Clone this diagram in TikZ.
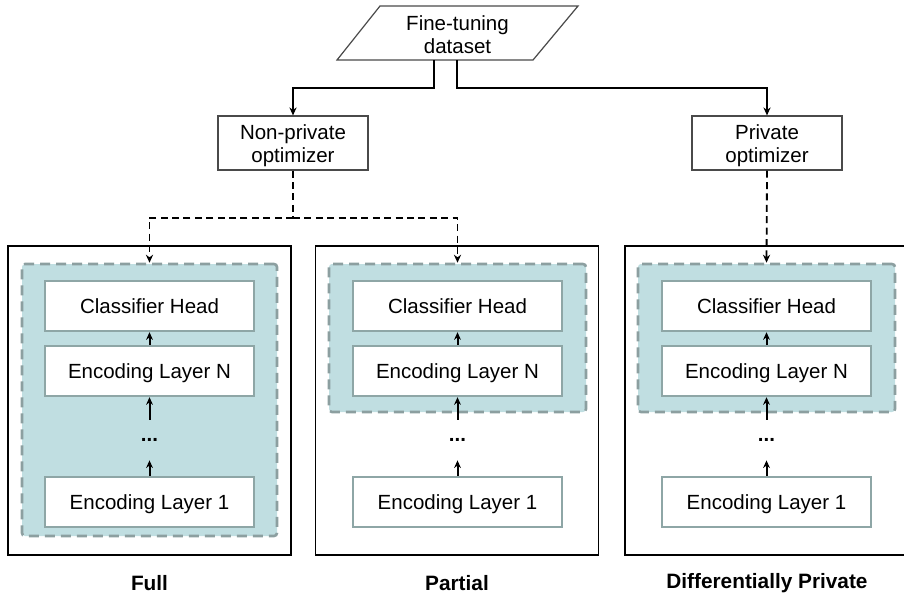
\documentclass[tikz,border=0pt]{standalone}
\usepackage{fontspec}
\setmainfont{Liberation Sans}
\usetikzlibrary{arrows.meta,calc}
\definecolor{shadefill}{HTML}{C0DEE1}
\definecolor{shadeedge}{HTML}{8C9FA0}
\definecolor{layeredge}{HTML}{8EA6A6}
\definecolor{optedge}{HTML}{4A4A4A}
\begin{document}
\begin{tikzpicture}[x=0.5pt,y=-0.5pt,
  font=\fontsize{10.25}{11.6}\selectfont,
  optbox/.style={draw=optedge, line width=0.6pt, inner sep=0pt,
    minimum width=75pt, minimum height=27pt},
  opttext/.style={align=center, inner sep=0pt},
  outerbox/.style={draw, line width=0.7pt, inner sep=0pt,
    minimum width=141.5pt, minimum height=154.5pt},
  shadebox/.style={draw=shadeedge, fill=shadefill, line width=1.3pt,
    dash pattern=on 5pt off 3pt, rounded corners=1.5pt, inner sep=0pt},
  layerbox/.style={draw=layeredge, fill=white, line width=1.2pt, inner sep=0pt,
    minimum width=104.5pt, minimum height=25pt, text height=7.4pt, text depth=0pt},
  dotsnode/.style={inner sep=0pt, minimum height=20pt, font=\fontsize{10.25}{11.6}\selectfont\bfseries},
  arr/.style={-{Stealth[length=4pt,width=3.6pt]}, line width=0.7pt},
  dline/.style={line width=0.9pt, dash pattern=on 3.5pt off 2.2pt},
  darr/.style={dline, -{Stealth[length=4pt,width=3.6pt]}},
  uparr/.style={-{Stealth[length=3.8pt,width=3.4pt]}, line width=1pt},
  caption/.style={font=\fontsize{10.4}{12}\selectfont\bfseries}
]
\useasboundingbox (0,0) rectangle (904,596);
\clip (0,0) rectangle (904,596);

% dataset parallelogram
\draw[draw=optedge, line width=0.6pt] (337,60) -- (380,6) -- (578,6) -- (533,60) -- cycle;
\node[align=center, inner sep=0pt] (data) at (457.5,35) {Fine-tuning\\dataset};
\coordinate (dL) at (434,60);
\coordinate (dR) at (457,60);

% optimizers
\node[optbox] (np) at (293,143) {};
\node[opttext] (npt) at (293,146) {Non-private\\optimizer};
\node[optbox] (pv) at (767,143) {};
\node[opttext] (pvt) at (767,146) {Private\\optimizer};

% outer boxes
\node[outerbox] (ofull) at (149.5,400.5) {};
\node[outerbox] (opart) at (457,400.5) {};
\node[outerbox] (odp) at (766.5,400.5) {};

% shaded regions
\node[shadebox, minimum width=127.5pt, minimum height=136pt] (sf) at (149.5,400) {};
\node[shadebox, minimum width=128.5pt, minimum height=74pt] (sp) at (457.5,338) {};
\node[shadebox, minimum width=128.5pt, minimum height=74pt] (sd) at (766.5,338) {};

% Full column
\node[layerbox] (fch) at (149.5,306) {Classifier Head};
\node[layerbox] (fen) at (149.5,371) {Encoding Layer N};
\node[dotsnode] (fdots) at (149.5,440) {...};
\node[layerbox] (fe1) at (149.5,502) {Encoding Layer 1};

% Partial column
\node[layerbox] (pch) at (457.5,306) {Classifier Head};
\node[layerbox] (pen) at (457.5,371) {Encoding Layer N};
\node[dotsnode] (pdots) at (457.5,440) {...};
\node[layerbox] (pe1) at (457.5,502) {Encoding Layer 1};

% DP column
\node[layerbox] (dch) at (766.5,306) {Classifier Head};
\node[layerbox] (den) at (766.5,371) {Encoding Layer N};
\node[dotsnode] (ddots) at (766.5,440) {...};
\node[layerbox] (de1) at (766.5,502) {Encoding Layer 1};

% inner arrows
\foreach \c in {f,p,d}{
  \draw[uparr] (\c en.north) -- (\c ch.south);
  \draw[uparr] (\c dots.north) -- (\c en.south);
  \draw[uparr] (\c e1.north) -- (\c dots.south);
}

% dataset to optimizers
\draw[arr] (dL) -- ++(0,28) -| (np.north);
\draw[arr] (dR) -- ++(0,28) -| (pv.north);

% optimizers to models
\coordinate (j) at ($(np.south)+(0,47)$);
\draw[dline] (np.south) -- (j);
\draw[darr] (j) -| (sf.north);
\draw[darr] (j) -| (sp.north);
\draw[darr] (pv.south) -- (sd.north);

% captions
\node[caption] (cf) at (149.5,583) {Full};
\node[caption] (cp) at (457,583) {Partial};
\node[caption] (cd) at (767,583) {Differentially Private};
\end{tikzpicture}
\end{document}
